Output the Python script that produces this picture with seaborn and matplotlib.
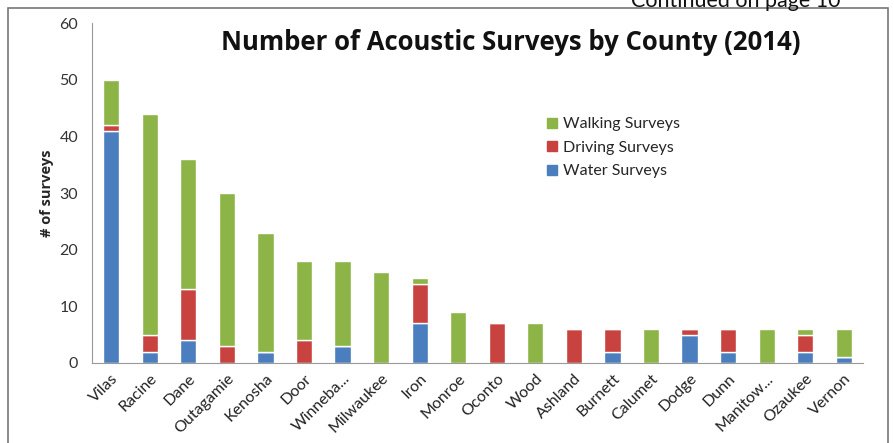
import numpy as np
import pandas as pd
import matplotlib
matplotlib.use("Agg")
import matplotlib.pyplot as plt
from matplotlib.patches import Patch, Rectangle
import seaborn as sns

counties = ["Vilas", "Racine", "Dane", "Outagamie", "Kenosha", "Door", "Winneba...",
            "Milwaukee", "Iron", "Monroe", "Oconto", "Wood", "Ashland", "Burnett",
            "Calumet", "Dodge", "Dunn", "Manitow...", "Ozaukee", "Vernon"]
water = [41, 2, 4, 0, 2, 0, 3, 0, 7, 0, 0, 0, 0, 2, 0, 5, 2, 0, 2, 1]
driving = [1, 3, 9, 3, 0, 4, 0, 0, 7, 0, 7, 0, 6, 4, 0, 1, 4, 0, 3, 0]
walking = [8, 39, 23, 27, 21, 14, 15, 16, 1, 9, 0, 7, 0, 0, 6, 0, 0, 6, 1, 5]

df = pd.DataFrame({"county": counties, "water": water, "driving": driving, "walking": walking})
df["base_walk"] = df["water"] + df["driving"]

c_water = "#4a7ebf"
c_drive = "#c8423f"
c_walk = "#8db446"

sns.set_style("white")
plt.rcParams["font.family"] = ["Lato", "DejaVu Sans"]

fig = plt.figure(figsize=(8.94, 4.43), dpi=100)
ax = fig.add_axes([0.1029, 0.1806, 0.8624, 0.7674])

w = 0.42
sns.barplot(data=df, x="county", y="water", color=c_water, width=w, ax=ax, saturation=1)
sns.barplot(data=df, x="county", y="driving", bottom=df["water"], color=c_drive, width=w, ax=ax, saturation=1)
sns.barplot(data=df, x="county", y="walking", bottom=df["base_walk"], color=c_walk, width=w, ax=ax, saturation=1)

ax.set_ylim(0, 60)
ax.set_xlim(-0.5, len(counties) - 0.5)
ax.set_yticks(range(0, 61, 10))
ax.tick_params(axis="y", labelsize=11.5, length=4, color="#888888", labelcolor="#333333", pad=6)
ax.set_xticks(range(len(counties)))
ax.set_xticklabels(counties, rotation=45, ha="right", rotation_mode="anchor", fontsize=11.5, color="#222222")
ax.tick_params(axis="x", length=0, pad=6)
ax.set_xticks(np.arange(-0.5, len(counties), 1), minor=True)
ax.tick_params(axis="x", which="minor", length=5, color="#888888")
ax.tick_params(axis="y", which="minor", length=0)
ax.set_xlabel("")
ax.set_ylabel("# of surveys", fontsize=10.5, fontweight="bold", family="Open Sans", labelpad=4)
for s in ["top", "right"]:
    ax.spines[s].set_visible(False)
for s in ["left", "bottom"]:
    ax.spines[s].set_color("#999999")
    ax.spines[s].set_linewidth(0.8)

handles = [Patch(color=c_walk, label="Walking Surveys"),
           Patch(color=c_drive, label="Driving Surveys"),
           Patch(color=c_water, label="Water Surveys")]
ax.legend(handles=handles, loc="upper left", bbox_to_anchor=(0.572, 0.765), frameon=False,
          fontsize=11.5, handlelength=0.6, handleheight=0.6, handletextpad=0.4, labelspacing=0.6)

fig.text(0.571, 0.903, "Number of Acoustic Surveys by County (2014)", ha="center", va="center",
         fontsize=18.5, fontweight="bold", family="Open Sans", color="#111111")
fig.text(0.8225, 1 - 7 / 443, "Continued on page 10", ha="center", va="baseline", fontsize=15.5, color="#111111")

fig.patches.append(Rectangle((8 / 894, -0.1), 880 / 894, 1.1 - 8 / 443, transform=fig.transFigure,
                             fill=False, edgecolor="#777777", linewidth=1.2))

fig.savefig("out.png", dpi=100)
